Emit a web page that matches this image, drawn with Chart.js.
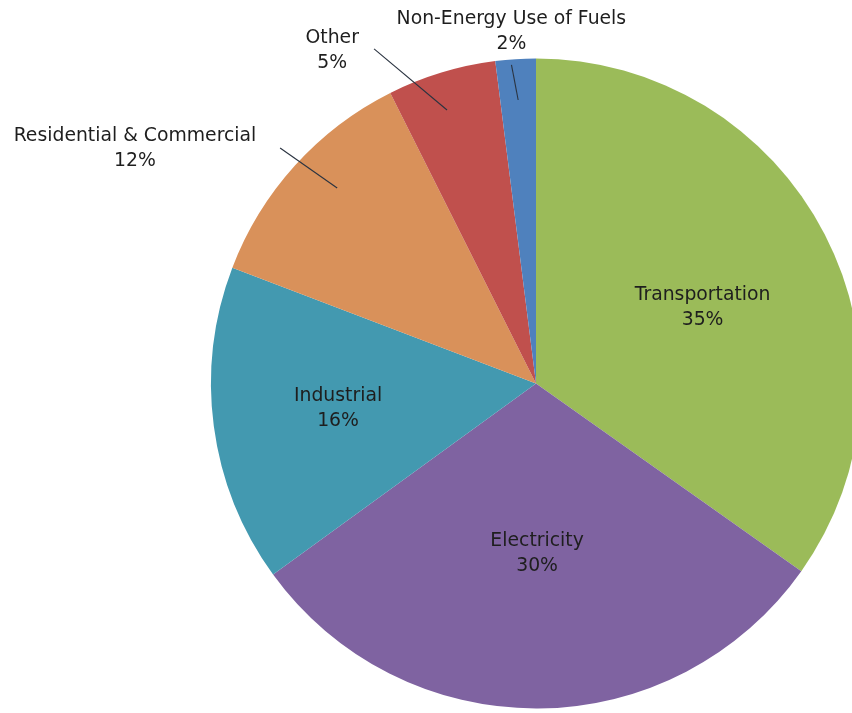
<!DOCTYPE html>
<html>
<head>
<meta charset="utf-8">
<script src="https://cdn.jsdelivr.net/npm/chart.js@4"></script>
<style>
  html, body { margin: 0; padding: 0; background: #ffffff; overflow: hidden; }
  #wrap { position: relative; width: 852px; height: 713px; overflow: hidden; background: #ffffff; }
  #c { position: absolute; left: 0; top: 0; }
</style>
</head>
<body>
<div id="wrap"><canvas id="c" width="880" height="713"></canvas></div>
<script>
// ---- data ----
const categories = [
  'Transportation',
  'Electricity',
  'Industrial',
  'Residential & Commercial',
  'Other',
  'Non-Energy Use of Fuels'
];
const shares = [34.8, 30.2, 15.8, 11.8, 5.4, 2.0];
const sliceColors = ['#9BBB59', '#7F63A1', '#4399B0', '#D9915A', '#C0504D', '#4F81BD'];

// ---- label layout (angle offset from slice middle in degrees, distance as fraction of radius) ----
const labelLayout = [
  { dAng: 2.7,   rFrac: 0.564 },
  { dAng: 0,     rFrac: 0.522 },
  { dAng: 0.3,   rFrac: 0.614 },
  { dAng: -11.7, rFrac: 1.431 },
  { dAng: -14.5, rFrac: 1.203 },
  { dAng: -0.4,  rFrac: 1.087 }
];
const leaderLayout = [
  null, null, null,
  { a1: 0.5,  r1: 1.070, a2: 2.4,  r2: 0.858 },
  { a1: -8.9, r1: 1.144, a2: -1.1, r2: 0.885 },
  { a1: -0.8, r1: 0.983, a2: 0.0,  r2: 0.874 }
];

function drawScaledText(ctx, text, x, y, sx) {
  ctx.save();
  ctx.translate(x, y);
  ctx.scale(sx, 1);
  ctx.fillText(text, 0, 0);
  ctx.restore();
}

const labelPlugin = {
  id: 'sliceLabels',
  afterDatasetsDraw(chart) {
    const ctx = chart.ctx;
    const meta = chart.getDatasetMeta(0);
    const vals = chart.data.datasets[0].data;
    const total = vals.reduce((a, b) => a + b, 0);
    ctx.save();
    ctx.font = '20px "DejaVu Sans", Verdana, sans-serif';
    ctx.fillStyle = '#1e1e1e';
    ctx.textAlign = 'center';
    ctx.textBaseline = 'middle';
    meta.data.forEach((arc, i) => {
      const p = arc.getProps(['x', 'y', 'startAngle', 'endAngle', 'outerRadius'], true);
      const mid = (p.startAngle + p.endAngle) / 2;
      const deg = Math.PI / 180;
      const L = leaderLayout[i];
      if (L) {
        ctx.save();
        ctx.strokeStyle = '#2a3340';
        ctx.lineWidth = 1.1;
        ctx.beginPath();
        ctx.moveTo(p.x + Math.cos(mid + L.a1 * deg) * p.outerRadius * L.r1,
                   p.y + Math.sin(mid + L.a1 * deg) * p.outerRadius * L.r1);
        ctx.lineTo(p.x + Math.cos(mid + L.a2 * deg) * p.outerRadius * L.r2,
                   p.y + Math.sin(mid + L.a2 * deg) * p.outerRadius * L.r2);
        ctx.stroke();
        ctx.restore();
      }
      const lay = labelLayout[i];
      const a = mid + lay.dAng * deg;
      const lx = p.x + Math.cos(a) * p.outerRadius * lay.rFrac;
      const ly = p.y + Math.sin(a) * p.outerRadius * lay.rFrac;
      const pct = Math.round(vals[i] / total * 100) + '%';
      drawScaledText(ctx, chart.data.labels[i], lx, ly - 12.5, 0.94);
      drawScaledText(ctx, pct, lx, ly + 12.5, 0.94);
    });
    ctx.restore();
  }
};

new Chart(document.getElementById('c'), {
  type: 'pie',
  data: {
    labels: categories,
    datasets: [{
      data: shares,
      backgroundColor: sliceColors,
      borderWidth: 0
    }]
  },
  options: {
    responsive: false,
    animation: false,
    layout: { padding: { left: 211, right: 19, top: 58.5, bottom: 4.5 } },
    plugins: {
      legend: { display: false },
      tooltip: { enabled: false },
      title: { display: false }
    }
  },
  plugins: [labelPlugin]
});
</script>
</body>
</html>
